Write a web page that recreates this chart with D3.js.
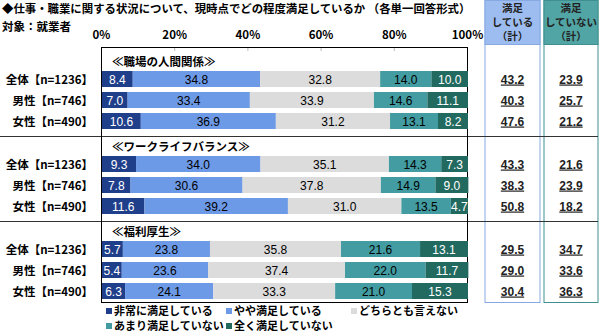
<!DOCTYPE html>
<html>
<head>
<meta charset="utf-8">
<script src="https://cdn.jsdelivr.net/npm/d3@7"></script>
<style>
  body { margin: 0; background: #fff; }
  text { font-family: "Noto Sans CJK JP", sans-serif; }
</style>
</head>
<body>
<div id="chart-area"></div>
<script>
// data
const sections = ["≪職場の人間関係≫", "≪ワークライフバランス≫", "≪福利厚生≫"]
const groups = ["全体【n=1236】", "男性【n=746】", "女性【n=490】"]
const categories = ["非常に満足している", "やや満足している", "どちらとも言えない", "あまり満足していない", "全く満足していない"]
const colors = ["#1f3f8b", "#6d9ae6", "#dcdcdc", "#429ca2", "#226a60"]
const textColors = ["#fff", "#000", "#000", "#000", "#fff"]

const values = [
  [[8.4, 34.8, 32.8, 14.0, 10.0], [7.0, 33.4, 33.9, 14.6, 11.1], [10.6, 36.9, 31.2, 13.1, 8.2]],
  [[9.3, 34.0, 35.1, 14.3, 7.3], [7.8, 30.6, 37.8, 14.9, 9.0], [11.6, 39.2, 31.0, 13.5, 4.7]],
  [[5.7, 23.8, 35.8, 21.6, 13.1], [5.4, 23.6, 37.4, 22.0, 11.7], [6.3, 24.1, 33.3, 21.0, 15.3]]
]
const satisfied = [[43.2, 40.3, 47.6], [43.3, 38.3, 50.8], [29.5, 29.0, 30.4]]
const notSatisfied = [[23.9, 25.7, 21.2], [21.6, 23.9, 18.2], [34.7, 33.6, 36.3]]
const ticks = [0, 20, 40, 60, 80, 100]

const W = 600, H = 336
const PLOT = { LEFT: 101, RIGHT: 467, TOP: 47, BOTTOM: 302 }
const BAR_H = 16

const svg = d3.select("#chart-area").append("svg")
  .attr("width", W)
  .attr("height", H)

// scales
const x = d3.scaleLinear().domain([0, 100]).range([PLOT.LEFT, PLOT.RIGHT])
const ySection = d3.scaleLinear().domain([0, 2]).range([79, 249])
const yRow = d3.scaleLinear().domain([0, 2]).range([0, 42])
const rowY = (s, i) => ySection(s) + yRow(i)

// title
svg.append("text")
  .attr("x", 2).attr("y", 13)
  .attr("font-size", 11.4).attr("font-weight", "bold")
  .text("◆仕事・職業に関する状況について、現時点でどの程度満足しているか （各単一回答形式）")
svg.append("text")
  .attr("x", 2).attr("y", 31)
  .attr("font-size", 11.5).attr("font-weight", "bold")
  .text("対象：就業者")

// top axis
const xAxisCall = d3.axisTop(x)
  .tickValues(ticks)
  .tickFormat(d => d + "%")
  .tickSizeInner(-4)
  .tickSizeOuter(0)
  .tickPadding(8)
const xAxis = svg.append("g")
  .attr("transform", `translate(0, ${PLOT.TOP})`)
  .call(xAxisCall)
xAxis.select(".domain").remove()
xAxis.selectAll("line").attr("stroke", "#bbb")
xAxis.selectAll("text")
  .attr("font-size", 11.5)
  .attr("font-weight", "bold")
  .attr("fill", "#000")
  .style("font-family", "'Noto Sans CJK JP', sans-serif")

// table columns
const cols = [
  { x0: 485, x1: 540, fill: "#9dbdf0", stroke: "#86a9e2", lines: ["満足", "している", "（計）"], data: satisfied },
  { x0: 544, x1: 598, fill: "#52a5a5", stroke: "#3f8f90", lines: ["満足", "していない", "（計）"], data: notSatisfied }
]
cols.forEach(c => {
  svg.append("rect")
    .attr("x", c.x0).attr("y", 0.5)
    .attr("width", c.x1 - c.x0).attr("height", PLOT.BOTTOM)
    .attr("fill", "#fff").attr("stroke", c.stroke)
  svg.append("rect")
    .attr("x", c.x0).attr("y", 0.5)
    .attr("width", c.x1 - c.x0).attr("height", 44)
    .attr("fill", c.fill).attr("stroke", c.stroke)
  c.lines.forEach((t, k) => {
    svg.append("text")
      .attr("x", (c.x0 + c.x1) / 2).attr("y", 11.5 + k * 14)
      .attr("text-anchor", "middle")
      .attr("font-size", 10.5).attr("font-weight", "bold")
      .attr("fill", "#222")
      .text(t)
  })
})

// section separators
;[0, 1].forEach(s => {
  const yy = Math.round(rowY(s, 2) + 15) + 0.5
  svg.append("line")
    .attr("x1", 0).attr("x2", 598)
    .attr("y1", yy).attr("y2", yy)
    .attr("stroke", "#333").attr("stroke-width", 1)
})

// plot frame
svg.append("rect")
  .attr("x", PLOT.LEFT + 0.5).attr("y", PLOT.TOP + 0.5)
  .attr("width", PLOT.RIGHT - PLOT.LEFT).attr("height", PLOT.BOTTOM - PLOT.TOP)
  .attr("fill", "none").attr("stroke", "#000")

// sections
sections.forEach((name, s) => {
  svg.append("text")
    .attr("x", 112).attr("y", ySection(s) - 13)
    .attr("font-size", 11.5).attr("font-weight", "bold")
    .text(name)

  groups.forEach((grp, i) => {
    const cy = rowY(s, i)
    svg.append("text")
      .attr("x", 93).attr("y", cy + 4.5)
      .attr("text-anchor", "end")
      .attr("font-size", 11.5).attr("font-weight", "bold")
      .text(grp)

    const stacked = d3.cumsum(values[s][i])
    const segs = values[s][i].map((v, k) => ({ v, k, start: stacked[k] - v, end: stacked[k] }))

    const row = svg.append("g")
    row.selectAll("rect")
      .data(segs)
      .join("rect")
      .attr("x", d => x(d.start) + 1)
      .attr("y", cy - BAR_H / 2)
      .attr("width", d => x(d.end) - x(d.start))
      .attr("height", BAR_H)
      .attr("fill", d => colors[d.k])

    row.selectAll("text")
      .data(segs)
      .join("text")
      .attr("x", d => (x(d.start) + x(d.end)) / 2 + 1)
      .attr("y", cy + 4.5)
      .attr("text-anchor", "middle")
      .attr("font-size", 12)
      .attr("fill", d => textColors[d.k])
      .style("font-family", "'Liberation Sans', Arial, sans-serif")
      .text(d => d.v.toFixed(1))

    cols.forEach(c => {
      svg.append("text")
        .attr("x", (c.x0 + c.x1) / 2).attr("y", cy + 4.5)
        .attr("text-anchor", "middle")
        .attr("font-size", 12).attr("font-weight", "bold")
        .attr("text-decoration", "underline")
        .attr("fill", "#222")
        .style("font-family", "'Liberation Sans', Arial, sans-serif")
        .text(c.data[s][i].toFixed(1))
    })
  })
})

// legend
const legendPos = [[106, 315], [226, 315], [351, 315], [106, 330], [226, 330]]
categories.forEach((cat, k) => {
  const [lx, ly] = legendPos[k]
  svg.append("rect")
    .attr("x", lx).attr("y", ly - 7)
    .attr("width", 6).attr("height", 6)
    .attr("fill", colors[k])
  svg.append("text")
    .attr("x", lx + 8).attr("y", ly)
    .attr("font-size", 11).attr("font-weight", "bold")
    .text(cat)
})
</script>
</body>
</html>
